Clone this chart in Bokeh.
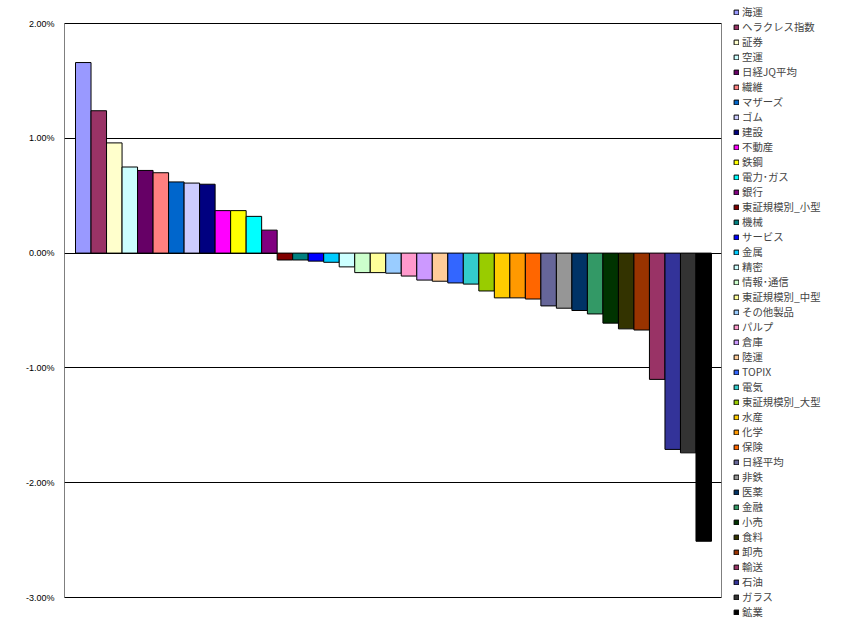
from bokeh.plotting import figure
from bokeh.layouts import row
from bokeh.models import (ColumnDataSource, Range1d, FixedTicker, NumeralTickFormatter, Legend,
                          LegendItem, BoxAnnotation)
from bokeh.embed import file_html
from bokeh.resources import INLINE

names = ["海運", "ヘラクレス指数", "証券", "空運", "日経JQ平均", "繊維", "マザーズ", "ゴム", "建設",
         "不動産", "鉄鋼", "電力･ガス", "銀行", "東証規模別_小型", "機械", "サービス", "金属", "精密",
         "情報･通信", "東証規模別_中型", "その他製品", "パルプ", "倉庫", "陸運", "TOPIX", "電気",
         "東証規模別_大型", "水産", "化学", "保険", "日経平均", "非鉄", "医薬", "金融", "小売", "食料",
         "卸売", "輸送", "石油", "ガラス", "鉱業"]

# daily change, percent
changes = [1.66, 1.24, 0.96, 0.75, 0.72, 0.70, 0.62, 0.61, 0.60,
           0.37, 0.37, 0.32, 0.20, -0.06, -0.06, -0.07, -0.08, -0.12,
           -0.17, -0.17, -0.175, -0.20, -0.235, -0.245, -0.26, -0.27,
           -0.33, -0.39, -0.39, -0.40, -0.46, -0.48, -0.50, -0.53, -0.61, -0.66,
           -0.67, -1.10, -1.71, -1.74, -2.51]

colors = ["#9999FF", "#993366", "#FFFFCC", "#CCFFFF", "#660066", "#FF8080", "#0066CC", "#CCCCFF", "#000080",
          "#FF00FF", "#FFFF00", "#00FFFF", "#800080", "#800000", "#008080", "#0000FF", "#00CCFF", "#CCFFFF",
          "#CCFFCC", "#FFFF99", "#99CCFF", "#FF99CC", "#CC99FF", "#FFCC99", "#3366FF", "#33CCCC",
          "#99CC00", "#FFCC00", "#FF9900", "#FF6600", "#666699", "#969696", "#003366", "#339966", "#003300", "#333300",
          "#993300", "#993366", "#333399", "#333333", "#000000"]

y_ticks = [-0.03, -0.02, -0.01, 0.0, 0.01, 0.02]
y_min, y_max = -0.03, 0.02

src = ColumnDataSource(dict(
    x=list(range(len(names))),
    top=[v / 100.0 for v in changes],
    color=colors,
    name=names,
))

# plot box occupies 574 px of a 623 px tall frame (23 px above, 26 px below)
H = 623
per_px = (y_max - y_min) / 574.0

# ---- main chart ----
p = figure(width=724, height=H, output_backend="svg", toolbar_location=None,
           x_axis_location=None,
           x_range=Range1d(-1.21, len(names) - 0.5 + 0.645),
           y_range=Range1d(y_min - 26 * per_px, y_max + 23 * per_px),
           min_border=0, min_border_left=64, min_border_top=0, min_border_bottom=0,
           min_border_right=3)

p.vbar(x="x", top="top", bottom=0, width=1.0, fill_color="color", line_color="black",
       line_width=1, source=src)

p.yaxis.ticker = FixedTicker(ticks=y_ticks)
p.yaxis.formatter = NumeralTickFormatter(format="0.00%")
p.yaxis.major_tick_line_color = None
p.yaxis.minor_tick_line_color = None
p.yaxis.major_tick_out = 0
p.yaxis.major_tick_in = 0
p.yaxis.axis_line_color = None
p.yaxis.major_label_standoff = 10
p.yaxis.major_label_text_font = "Liberation Sans"
p.yaxis.major_label_text_font_size = "9px"
p.yaxis.major_label_text_color = "black"

p.xgrid.visible = False
p.ygrid.ticker = FixedTicker(ticks=y_ticks)
p.ygrid.grid_line_color = "black"
p.ygrid.grid_line_width = 1
p.ygrid.grid_line_alpha = 1.0

p.outline_line_color = None
p.background_fill_color = "white"
p.border_fill_color = "white"

# plot-area box
p.add_layout(BoxAnnotation(top=y_max, bottom=y_min, fill_alpha=0, line_color="black",
                           line_width=1, line_alpha=1.0))

# ---- legend panel ----
lg = figure(width=116, height=H, output_backend="svg", toolbar_location=None,
            x_axis_location=None, y_axis_location=None,
            x_range=Range1d(1000, 1001), y_range=Range1d(1000, 1001),
            min_border=0, min_border_left=0, min_border_right=0,
            min_border_top=0, min_border_bottom=0)
lg.outline_line_color = None
lg.grid.visible = False
lr = lg.vbar(x="x", top="top", bottom=0, width=1.0, fill_color="color", line_color="black",
             line_width=1, source=src)

items = [LegendItem(label=n, renderers=[lr], index=i) for i, n in enumerate(names)]
legend = Legend(items=items, location=(9, 4), orientation="vertical",
                padding=0, margin=0, spacing=0,
                glyph_width=6, glyph_height=6, label_height=15, label_standoff=3,
                label_text_font="Noto Sans CJK JP", label_text_font_size="10.4px",
                label_text_baseline="middle",
                border_line_alpha=0, background_fill_alpha=0)
lg.add_layout(legend, "center")

layout = row(p, lg)
open("out.html", "w").write(file_html(layout, INLINE))
